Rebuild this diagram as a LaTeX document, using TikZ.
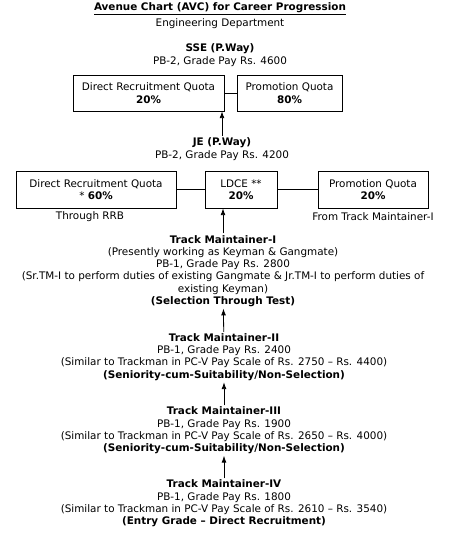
\documentclass[tikz,border=0pt]{standalone}
\usepackage{fontspec}
\setmainfont{DejaVu Sans}
\usepackage{tikz}
\usetikzlibrary{positioning,arrows.meta}

\begin{document}
\begin{tikzpicture}[
    x=1pt, y=-1pt,
    txt/.style={align=center, inner sep=1.5pt, font=\fontsize{10.4}{12.3}\selectfont},
    quota/.style={draw, semithick, align=center, inner sep=1pt,
        font=\fontsize{10.4}{12.3}\selectfont},
    link/.style={thin},
    arrow/.style={-{Latex[length=2.4mm,width=1.7mm]}, thick}
]
\useasboundingbox (0,0) rectangle (450,536);
\fill[white] (0,0) rectangle (450,536);
% heading
\node[txt] (title) at (220,9) {\underline{\textbf{Avenue Chart (AVC) for Career Progression}}};
\node[txt] (dept) at (220,24) {Engineering Department};
% SSE level
\node[txt] (sse) at (220,55) {\textbf{SSE (P.Way)}\\PB-2, Grade Pay Rs. 4600};
\node[quota, minimum width=151pt, minimum height=36pt] (drqa) at (148.5,93)
    {Direct Recruitment Quota\\\textbf{20\%}};
\node[quota, minimum width=105pt, minimum height=36pt] (pqa) at (289.5,93)
    {Promotion Quota\\\textbf{80\%}};
% JE level
\node[txt] (je) at (222,149) {\textbf{JE (P.Way)}\\PB-2, Grade Pay Rs. 4200};
\node[quota, minimum width=160pt, minimum height=37pt] (drqb) at (96,189.5)
    {Direct Recruitment Quota\\* \textbf{60\%}};
\node[quota, minimum width=72pt, minimum height=37pt] (ldce) at (241,189.5)
    {LDCE **\\\textbf{20\%}};
\node[quota, minimum width=110pt, minimum height=37pt] (pqb) at (373,189.5)
    {Promotion Quota\\\textbf{20\%}};
\node[txt] (rrb) at (90,217) {Through RRB};
\node[txt] (ftm) at (373,217) {From Track Maintainer-I};
% track maintainers
\node[txt] (tma) at (223,271) {\textbf{Track Maintainer-I}\\
    (Presently working as Keyman \& Gangmate)\\
    PB-1, Grade Pay Rs. 2800\\
    (Sr.TM-I to perform duties of existing Gangmate \& Jr.TM-I to perform duties of\\
    existing Keyman)\\
    \textbf{(Selection Through Test)}};
\node[txt] (tmb) at (224,357) {\textbf{Track Maintainer-II}\\
    PB-1, Grade Pay Rs. 2400\\
    (Similar to Trackman in PC-V Pay Scale of Rs. 2750 -- Rs. 4400)\\
    \textbf{(Seniority-cum-Suitability/Non-Selection)}};
\node[txt] (tmc) at (224,430.5) {\textbf{Track Maintainer-III}\\
    PB-1, Grade Pay Rs. 1900\\
    (Similar to Trackman in PC-V Pay Scale of Rs. 2650 -- Rs. 4000)\\
    \textbf{(Seniority-cum-Suitability/Non-Selection)}};
\node[txt] (tmd) at (224,503.5) {\textbf{Track Maintainer-IV}\\
    PB-1, Grade Pay Rs. 1800\\
    (Similar to Trackman in PC-V Pay Scale of Rs. 2610 -- Rs. 3540)\\
    \textbf{(Entry Grade -- Direct Recruitment)}};
% connectors
\draw[link] (drqa) -- (pqa);
\draw[link] (drqb) -- (ldce);
\draw[link] (ldce) -- (pqb);
\draw[arrow] (je.north) -- (je.north |- drqa.south);
\draw[arrow] (tma.north) -- (tma.north |- ldce.south);
\draw[arrow] (tmb) -- (tma);
\draw[arrow] (tmc) -- (tmb);
\draw[arrow] (tmd) -- (tmc);
\end{tikzpicture}
\end{document}
